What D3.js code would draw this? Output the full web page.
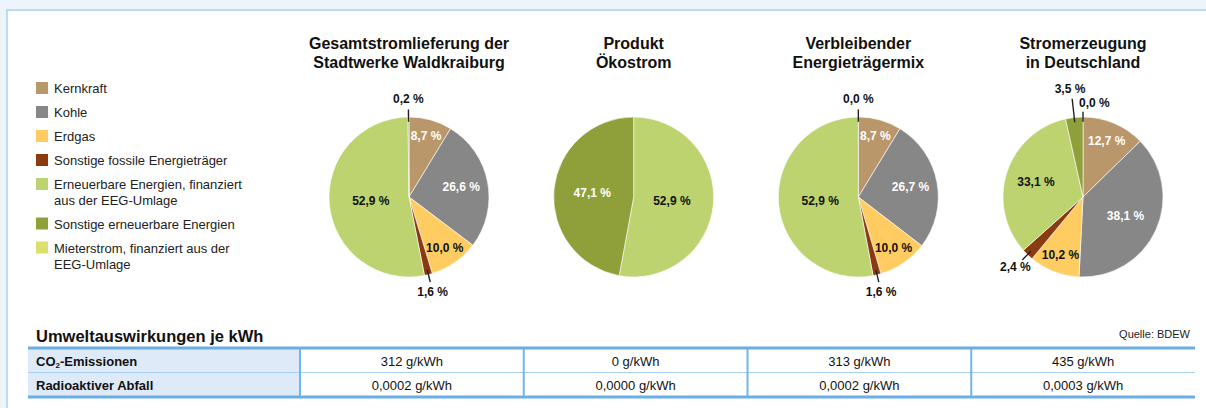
<!DOCTYPE html>
<html>
<head>
<meta charset="utf-8">
<script src="https://cdn.jsdelivr.net/npm/d3@7"></script>
<style>
  body { margin: 0; background: #eef4fc; }
  svg { display: block; font-family: "Liberation Sans", Arial, sans-serif; }
</style>
</head>
<body>
<svg id="chart"></svg>
<script>
const categories = [
  "Kernkraft",
  "Kohle",
  "Erdgas",
  "Sonstige fossile Energieträger",
  "Erneuerbare Energien, finanziert aus der EEG-Umlage",
  "Sonstige erneuerbare Energien",
  "Mieterstrom, finanziert aus der EEG-Umlage"
];
const legendLines = [
  ["Kernkraft"],
  ["Kohle"],
  ["Erdgas"],
  ["Sonstige fossile Energieträger"],
  ["Erneuerbare Energien, finanziert", "aus der EEG-Umlage"],
  ["Sonstige erneuerbare Energien"],
  ["Mieterstrom, finanziert aus der", "EEG-Umlage"]
];
const colors = ["#b9976a", "#878787", "#fecc60", "#8a3b10", "#bcd36f", "#8f9f3a", "#dbe06c"];
const lightLabel = [true, true, false, false, false, true, false];

const pieTitles = [
  ["Gesamtstromlieferung der", "Stadtwerke Waldkraiburg"],
  ["Produkt", "Ökostrom"],
  ["Verbleibender", "Energieträgermix"],
  ["Stromerzeugung", "in Deutschland"]
];
// null = category not part of that mix
const gesamtValues = [8.7, 26.6, 10.0, 1.6, 52.9, 0.2, null];
const oekostromValues = [null, null, null, null, 52.9, 47.1, null];
const restmixValues = [8.7, 26.7, 10.0, 1.6, 52.9, 0.0, null];
const deutschlandValues = [12.7, 38.1, 10.2, 2.4, 33.1, 3.5, 0.0];
const pieValues = [gesamtValues, oekostromValues, restmixValues, deutschlandValues];

const tableTitle = "Umweltauswirkungen je kWh";
const sourceNote = "Quelle: BDEW";
const co2Values = [312, 0, 313, 435];
const wasteValues = [0.0002, 0.0000, 0.0002, 0.0003];

const W = 1206, H = 408;
const de = d3.formatLocale({ decimal: ",", thousands: ".", grouping: [3], currency: ["", " €"] });
const pct = de.format(".1f");
const f4 = de.format(".4f");

const svg = d3.select("#chart").attr("width", W).attr("height", H);

// frame
svg.append("rect").attr("width", W).attr("height", H).attr("fill", "#eef4fc");
svg.append("rect").attr("x", 7).attr("y", 10).attr("width", W).attr("height", H)
  .attr("fill", "#fff").attr("stroke", "#a9d2f2").attr("stroke-width", 1.5);

// legend
const legend = svg.append("g").attr("transform", "translate(36,82)");
let ly = 0;
legendLines.forEach((lines, i) => {
  const g = legend.append("g").attr("transform", `translate(0,${ly})`);
  g.append("rect").attr("width", 12).attr("height", 12).attr("fill", colors[i]);
  lines.forEach((t, j) => {
    g.append("text").attr("x", 18).attr("y", 11 + j * 16)
      .attr("font-size", 13).attr("fill", "#222").text(t);
  });
  ly += 24 + (lines.length - 1) * 15.5;
});

// pies
const r = 80, cy = 197;
const xPie = d3.scalePoint().domain(d3.range(pieTitles.length)).range([409, 1083]);
const pie = d3.pie().sort(null).value(d => d.value);
const arc = d3.arc().innerRadius(0).outerRadius(r);

pieValues.forEach((vals, k) => {
  const cx = xPie(k);
  const g = svg.append("g").attr("transform", `translate(${cx},${cy})`);

  pieTitles[k].forEach((t, j) => {
    svg.append("text").attr("x", cx).attr("y", 49 + j * 19)
      .attr("text-anchor", "middle").attr("font-size", 16).attr("font-weight", "bold")
      .attr("fill", "#111").text(t);
  });

  const items = vals.map((v, i) => ({ cat: i, value: v })).filter(d => d.value !== null);
  const arcs = pie(items);
  const total = d3.sum(items, d => d.value);

  g.selectAll("path.slice").data(arcs).join("path")
    .attr("class", "slice")
    .attr("d", arc)
    .attr("fill", d => colors[d.data.cat])
    .attr("stroke", "#fff").attr("stroke-width", d => d.data.value > 0 ? 0.6 : 0);

  // label layout
  const labels = arcs.map(d => {
    const p = d.data.value / total;
    const mid = (d.startAngle + d.endAngle) / 2;
    const outside = p < 0.05;
    return { d, p, mid, outside, ang: mid, rad: outside ? r * 1.22 : r * (0.85 - 0.7 * p) };
  });
  // spread neighbouring outside labels
  let prev = null;
  labels.forEach(l => {
    if (!l.outside) { prev = null; return; }
    if (prev) {
      const dx = Math.sin(l.ang) * l.rad - Math.sin(prev.ang) * prev.rad;
      const dy = Math.cos(l.ang) * l.rad - Math.cos(prev.ang) * prev.rad;
      if (Math.hypot(dx, dy) < 30) {
        prev.ang -= 0.01; prev.rad = r * 1.36;
        l.ang += 0.12; l.rad = r * 1.19;
      }
    }
    prev = l;
  });

  labels.forEach(l => {
    const x = Math.sin(l.ang) * l.rad, y = -Math.cos(l.ang) * l.rad;
    if (l.outside) {
      const r0 = r * 0.94, r1 = l.rad - 10;
      g.append("line")
        .attr("x1", Math.sin(l.mid) * r0).attr("y1", -Math.cos(l.mid) * r0)
        .attr("x2", Math.sin(l.mid) * r1).attr("y2", -Math.cos(l.mid) * r1)
        .attr("stroke", "#222").attr("stroke-width", 1.4);
    }
    g.append("text").attr("x", x).attr("y", y)
      .attr("text-anchor", "middle").attr("dominant-baseline", "central")
      .attr("font-size", 12).attr("font-weight", "bold")
      .attr("fill", !l.outside && lightLabel[l.d.data.cat] ? "#fff" : "#111")
      .text(pct(l.d.data.value) + " %");
  });
});

// table
const tLeft = 28, tRight = 1195, labelCol = 300, rowTop = 348, rowH = 24.5;
const xCol = d3.scaleBand().domain(d3.range(pieTitles.length)).range([labelCol, tRight]);
const rows = [
  { label: "CO", sub: "2", rest: "-Emissionen", values: co2Values.map(v => v + " g/kWh") },
  { label: "Radioaktiver Abfall", values: wasteValues.map(v => f4(v) + " g/kWh") }
];

svg.append("text").attr("x", 36).attr("y", 342)
  .attr("font-size", 16.5).attr("font-weight", "bold").attr("fill", "#111").text(tableTitle);
svg.append("text").attr("x", 1190).attr("y", 338).attr("text-anchor", "end")
  .attr("font-size", 11).attr("fill", "#222").text(sourceNote);

svg.append("rect").attr("x", tLeft).attr("y", rowTop).attr("width", labelCol - tLeft)
  .attr("height", rowH * rows.length).attr("fill", "#dfeaf8");

rows.forEach((row, i) => {
  const y = rowTop + rowH * i + rowH / 2 + 1;
  const t = svg.append("text").attr("x", 36).attr("y", y).attr("dominant-baseline", "central")
    .attr("font-size", 13).attr("font-weight", "bold").attr("fill", "#111");
  if (row.sub) {
    t.append("tspan").text(row.label);
    t.append("tspan").attr("font-size", 8).attr("dy", 4).text(row.sub);
    t.append("tspan").attr("dy", -4).text(row.rest);
  } else {
    t.text(row.label);
  }
  row.values.forEach((v, k) => {
    svg.append("text").attr("x", xCol(k) + xCol.bandwidth() / 2).attr("y", y)
      .attr("text-anchor", "middle").attr("dominant-baseline", "central")
      .attr("font-size", 13).attr("fill", "#111").text(v);
  });
  if (i > 0) {
    svg.append("line").attr("x1", tLeft).attr("x2", tRight)
      .attr("y1", rowTop + rowH * i).attr("y2", rowTop + rowH * i)
      .attr("stroke", "#a7cff2").attr("stroke-width", 1.2);
  }
});

xCol.domain().forEach(k => {
  svg.append("line").attr("x1", xCol(k)).attr("x2", xCol(k))
    .attr("y1", rowTop).attr("y2", rowTop + rowH * rows.length)
    .attr("stroke", "#74b4ea").attr("stroke-width", 2);
});
[rowTop, rowTop + rowH * rows.length].forEach(y => {
  svg.append("line").attr("x1", tLeft).attr("x2", tRight).attr("y1", y).attr("y2", y)
    .attr("stroke", "#6aaee8").attr("stroke-width", 3);
});
</script>
</body>
</html>
